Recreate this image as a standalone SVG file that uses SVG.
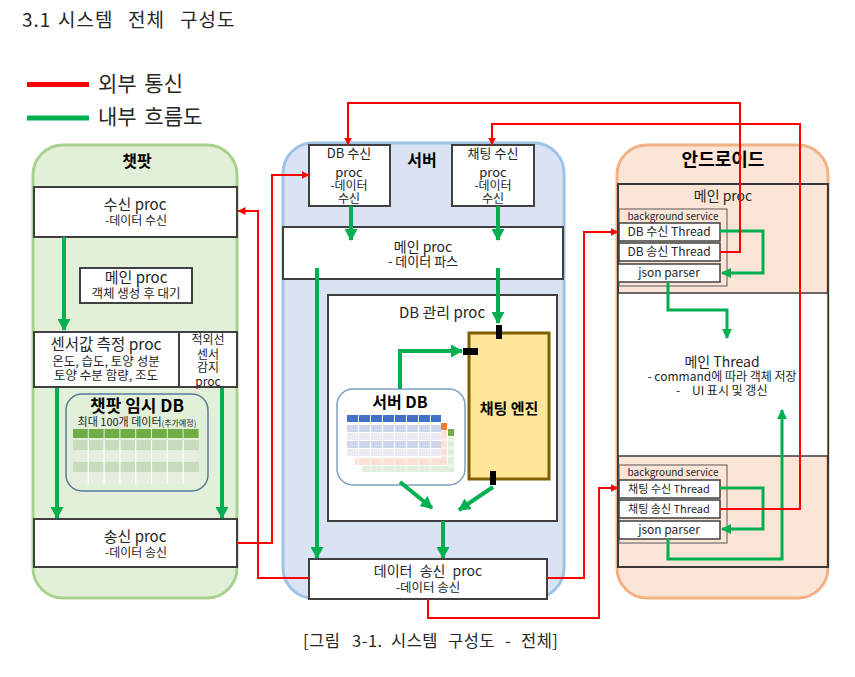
<svg xmlns="http://www.w3.org/2000/svg" width="855" height="677" viewBox="0 0 855 677">
<style>
text{font-family:"Noto Sans CJK KR","Noto Sans",sans-serif;fill:#262626;text-anchor:middle}
.t{text-anchor:start}
.b{font-weight:bold;fill:#000}
.box{fill:#fff;stroke:#404040;stroke-width:2}
.thr{fill:#fff;stroke:#404040;stroke-width:1.5}
.bg{fill:#fbe5d6;stroke:#595959;stroke-width:1}
.g{fill:none;stroke:#00b050;stroke-width:4;marker-end:url(#ga)}
.gs{fill:none;stroke:#00b050;stroke-width:3;marker-end:url(#gs)}
.r{fill:none;stroke:#ff0000;stroke-width:2;marker-end:url(#ra)}
.blk{fill:#000}
</style>
<defs>
<marker id="ga" markerUnits="userSpaceOnUse" viewBox="0 0 12 13" refX="11" refY="6.5" markerWidth="12" markerHeight="13" orient="auto"><path d="M0,0 L12,6.5 L0,13 z" fill="#00b050"/></marker>
<marker id="gs" markerUnits="userSpaceOnUse" viewBox="0 0 10 10" refX="9" refY="5" markerWidth="10" markerHeight="10" orient="auto"><path d="M0,0 L10,5 L0,10 z" fill="#00b050"/></marker>
<marker id="ra" markerUnits="userSpaceOnUse" viewBox="0 0 8 8" refX="7.5" refY="4" markerWidth="8" markerHeight="8" orient="auto"><path d="M0,0 L8,4 L0,8 z" fill="#ff0000"/></marker>
</defs>
<rect width="855" height="677" fill="#fff"/>

<g id="title">
<text class="t" y="27" font-size="19" letter-spacing="1"><tspan x="22">3.1</tspan><tspan x="58">시스템</tspan><tspan x="128">전체</tspan><tspan x="180">구성도</tspan></text>
</g>
<g id="legend">
<line x1="27" y1="84.5" x2="89" y2="84.5" stroke="#ff0000" stroke-width="5"/>
<text class="t" x="98" y="91" font-size="21" word-spacing="3">외부 통신</text>
<line x1="27" y1="118" x2="89" y2="118" stroke="#00b050" stroke-width="5"/>
<text class="t" x="98" y="124" font-size="21" word-spacing="3">내부 흐름도</text>
</g>

<!-- 챗팟 -->
<g id="chatpot">
<rect x="33" y="145" width="204" height="453" rx="30" fill="#e2f0d9" stroke="#a9d18e" stroke-width="3"/>
<text class="b" x="137" y="167" font-size="16">챗팟</text>
</g>
<g id="chatpot-recv">
<rect class="box" x="34" y="187" width="203" height="50"/>
<text x="135" y="210" font-size="15">수신 proc</text>
<text x="136" y="225" font-size="12">-데이터 수신</text>
</g>
<g id="chatpot-main">
<rect class="box" x="80" y="268" width="112" height="35"/>
<text x="136" y="283" font-size="15">메인 proc</text>
<text x="136" y="298" font-size="12.5">객체 생성 후 대기</text>
</g>
<g id="chatpot-sensor">
<rect class="box" x="34" y="332" width="145" height="55"/>
<text x="106" y="350" font-size="15.5">센서값 측정 proc</text>
<text x="106" y="366" font-size="12.5">온도, 습도, 토양 성분</text>
<text x="106" y="380" font-size="12.5">토양 수분 함량,  조도</text>
</g>
<g id="chatpot-ir">
<rect class="box" x="179" y="332" width="58" height="55"/>
<text x="208" y="344" font-size="12">적외선</text>
<text x="208" y="359" font-size="12">센서</text>
<text x="208" y="372" font-size="12">감지</text>
<text x="208" y="386" font-size="12">proc</text>
</g>
<g id="chatpot-db">
<rect x="66" y="394" width="142" height="97" rx="16" fill="#e2f0d9" stroke="#5a7a9a" stroke-width="1.5"/>
<text class="b" x="137" y="412" font-size="17">챗팟 임시 DB</text>
<text x="137" y="426" font-size="11">최대 100개 데이터<tspan font-size="8">(추가예정)</tspan></text>
<g fill="#70ad47">
<rect x="73" y="429" width="14.8" height="9"/><rect x="88.8" y="429" width="14.8" height="9"/><rect x="104.6" y="429" width="14.8" height="9"/><rect x="120.4" y="429" width="14.8" height="9"/><rect x="136.2" y="429" width="14.8" height="9"/><rect x="152" y="429" width="14.8" height="9"/><rect x="167.8" y="429" width="14.8" height="9"/><rect x="183.6" y="429" width="15" height="9"/>
</g>
<g fill="#c9dbbd">
<rect x="73" y="440" width="126" height="10"/><rect x="73" y="462" width="126" height="10"/>
</g>
<g fill="#e6eedf">
<rect x="73" y="451" width="126" height="10"/><rect x="73" y="473" width="126" height="11"/>
</g>
<g stroke="#fff" stroke-width="1.2">
<line x1="88.3" y1="440" x2="88.3" y2="484"/><line x1="104.1" y1="440" x2="104.1" y2="484"/><line x1="119.9" y1="440" x2="119.9" y2="484"/><line x1="135.7" y1="440" x2="135.7" y2="484"/><line x1="151.5" y1="440" x2="151.5" y2="484"/><line x1="167.3" y1="440" x2="167.3" y2="484"/><line x1="183.1" y1="440" x2="183.1" y2="484"/>
</g>
</g>
<g id="chatpot-send">
<rect class="box" x="34" y="519" width="203" height="48"/>
<text x="135" y="542" font-size="15">송신 proc</text>
<text x="136" y="557" font-size="12">-데이터 송신</text>
</g>

<!-- 서버 -->
<g id="server">
<rect x="283" y="143" width="281" height="455" rx="30" fill="#dae3f3" stroke="#9dc3e6" stroke-width="3"/>
<text class="b" x="422" y="166" font-size="16">서버</text>
</g>
<g id="server-dbrecv">
<rect class="box" x="309" y="145" width="81" height="61"/>
<text x="349" y="158" font-size="13">DB 수신</text>
<text x="349" y="177" font-size="13">proc</text>
<text x="349" y="190" font-size="12">-데이터</text>
<text x="349" y="203" font-size="12">수신</text>
</g>
<g id="server-chatrecv">
<rect class="box" x="452" y="145" width="82" height="61"/>
<text x="493" y="158" font-size="13">채팅 수신</text>
<text x="493" y="177" font-size="13">proc</text>
<text x="493" y="190" font-size="12">-데이터</text>
<text x="493" y="203" font-size="12">수신</text>
</g>
<g id="server-main">
<rect class="box" x="283" y="227" width="280" height="52"/>
<text x="423" y="252" font-size="14">메인 proc</text>
<text x="423" y="266" font-size="13">- 데이터 파스</text>
</g>
<g id="server-dbmgr">
<rect class="box" x="328" y="295" width="229" height="226"/>
<text x="442" y="318" font-size="15">DB 관리 proc</text>
</g>
<g id="server-db">
<rect x="337" y="389" width="128" height="96" rx="16" fill="#fff" stroke="#7f9fbf" stroke-width="1.5"/>
<text class="b" x="400" y="408" font-size="16">서버 DB</text>
<g fill="#4472c4">
<rect x="347" y="415" width="11" height="7"/><rect x="359" y="415" width="11" height="7"/><rect x="371" y="415" width="11" height="7"/><rect x="383" y="415" width="11" height="7"/><rect x="395" y="415" width="11" height="7"/><rect x="407" y="415" width="11" height="7"/><rect x="419" y="415" width="11" height="7"/><rect x="431" y="415" width="10" height="7"/>
</g>
<rect x="347" y="425" width="94" height="7" fill="#cfd5ea"/>
<rect x="347" y="433" width="94" height="7" fill="#e9ebf5"/>
<rect x="347" y="441" width="94" height="7" fill="#cfd5ea"/>
<rect x="347" y="449" width="94" height="7" fill="#e9ebf5"/>
<rect x="441" y="423" width="6" height="7" fill="#ed7d31"/>
<rect x="441" y="431" width="6" height="28" fill="#fbe0d5"/>
<rect x="448" y="429" width="6" height="7" fill="#70ad47"/>
<rect x="448" y="437" width="6" height="28" fill="#e2eedb"/>
<rect x="355" y="458" width="92" height="7" fill="#fbe0d5"/>
<rect x="362" y="466" width="92" height="6" fill="#e2eedb"/>
<g stroke="#fff" stroke-width="1">
<line x1="358.5" y1="425" x2="358.5" y2="472"/><line x1="370.5" y1="425" x2="370.5" y2="472"/><line x1="382.5" y1="425" x2="382.5" y2="472"/><line x1="394.5" y1="425" x2="394.5" y2="472"/><line x1="406.5" y1="425" x2="406.5" y2="472"/><line x1="418.5" y1="425" x2="418.5" y2="472"/><line x1="430.5" y1="425" x2="430.5" y2="472"/><line x1="441" y1="440" x2="454" y2="440"/><line x1="441" y1="448" x2="454" y2="448"/><line x1="441" y1="456" x2="454" y2="456"/>
</g>
</g>
<g id="server-chatengine">
<rect x="469" y="333" width="80" height="146" fill="#ffe699" stroke="#7f6000" stroke-width="3"/>
<text class="b" x="509" y="414" font-size="15">채팅 엔진</text>
<rect class="blk" x="496" y="325" width="6" height="14"/>
<rect class="blk" x="463" y="348" width="15" height="7"/>
<rect class="blk" x="490" y="471" width="6" height="14"/>
</g>
<g id="server-send">
<rect class="box" x="309" y="559" width="238" height="40"/>
<text x="428" y="576" font-size="14" word-spacing="4">데이터 송신 proc</text>
<text x="428" y="592" font-size="12.5">-데이터 송신</text>
</g>

<!-- 안드로이드 -->
<g id="android">
<rect x="617" y="145" width="211" height="453" rx="30" fill="#fbe5d6" stroke="#f4b183" stroke-width="3"/>
<text class="b" x="723" y="166" font-size="18">안드로이드</text>
</g>
<g id="android-main">
<rect x="618" y="184" width="210" height="383" fill="none" stroke="#3b3838" stroke-width="2"/>
<rect x="618" y="293" width="210" height="163" fill="#fff" stroke="#3b3838" stroke-width="1.5"/>
<text x="723" y="201" font-size="14">메인 proc</text>
<text x="722" y="367" font-size="14">메인 Thread</text>
<text x="722" y="381" font-size="12">- command에 따라 객체 저장</text>
<text class="t" y="395" font-size="12"><tspan x="676">-</tspan><tspan x="692">UI 표시 및 갱신</tspan></text>
</g>
<g id="android-bg1">
<rect class="bg" x="619" y="209" width="108" height="77"/>
<text x="673" y="220" font-size="10">background service</text>
</g>
<g id="android-dbrecv">
<rect class="thr" x="619" y="223" width="101" height="18"/>
<text x="669" y="236" font-size="12">DB 수신 Thread</text>
</g>
<g id="android-dbsend">
<rect class="thr" x="619" y="243" width="101" height="18"/>
<text x="669" y="256" font-size="12">DB 송신 Thread</text>
</g>
<g id="android-json1">
<rect class="thr" x="618" y="264" width="102" height="18"/>
<text x="669" y="277" font-size="12">json parser</text>
</g>
<g id="android-bg2">
<rect class="bg" x="619" y="465" width="108" height="78"/>
<text x="673" y="476" font-size="10">background service</text>
</g>
<g id="android-chatrecv">
<rect class="thr" x="619" y="480" width="101" height="18"/>
<text x="669" y="493" font-size="11">채팅 수신 Thread</text>
</g>
<g id="android-chatsend">
<rect class="thr" x="619" y="500" width="101" height="18"/>
<text x="669" y="513" font-size="11">채팅 송신 Thread</text>
</g>
<g id="android-json2">
<rect class="thr" x="619" y="521" width="101" height="18"/>
<text x="669" y="534" font-size="12">json parser</text>
</g>

<g id="caption">
<text class="t" y="647" font-size="16.5" letter-spacing="0.5"><tspan x="303">[그림</tspan><tspan x="352">3-1.</tspan><tspan x="391">시스템</tspan><tspan x="448">구성도</tspan><tspan x="505">-</tspan><tspan x="521">전체]</tspan></text>
</g>

<g id="connectors">
<path class="g" d="M64,237 V330"/>
<path class="g" d="M57,388 V518"/>
<path class="g" d="M222,388 V518"/>
<path class="g" d="M351,206 V240"/>
<path class="g" d="M498,206 V240"/>
<path class="g" d="M317,268 V558"/>
<path class="g" d="M498,268 V323"/>
<path class="g" d="M400,389 V351 H462"/>
<path class="g" d="M400,482 L432,508"/>
<path class="g" d="M493,487 L459,510"/>
<path class="g" d="M443,521 V558"/>
<path class="gs" d="M720,231 H763 V273 H722"/>
<path class="gs" d="M668,282 V310 H727 V338"/>
<path class="gs" d="M720,488 H763 V529 H722"/>
<path class="gs" d="M668,539 V559 H782 V410"/>
<path class="r" d="M237,543 H272 V175 H309"/>
<path class="r" d="M309,578 H258 V211 H238"/>
<path class="r" d="M720,252 H740 V103 H348 V145"/>
<path class="r" d="M720,509 H800 V124 H492 V145"/>
<path class="r" d="M547,578 H584 V232 H618"/>
<path class="r" d="M428,599 V618 H599 V488 H618"/>
</g>
</svg>
